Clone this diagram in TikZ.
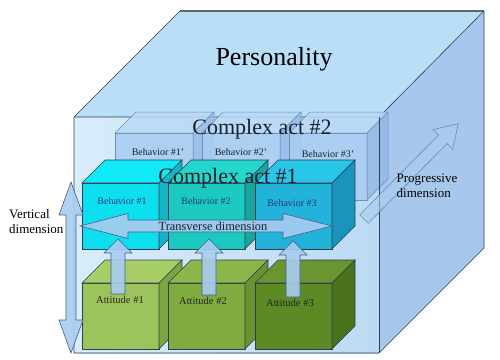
\documentclass[tikz,border=0pt]{standalone}
\usepackage{fontspec}
\setmainfont{Liberation Serif}
\usepackage{xcolor}
\usetikzlibrary{positioning}

\definecolor{cubeTop}{HTML}{B9DEF7}
\definecolor{cubeFrontL}{HTML}{D8EDFA}
\definecolor{cubeFrontR}{HTML}{BBDAF3}
\definecolor{cubeSide}{HTML}{A7C7EC}
\definecolor{edgeCol}{HTML}{2E3E50}
\definecolor{bpFront}{HTML}{A8CCF2}
\definecolor{bpTop}{HTML}{BAD9F6}
\definecolor{bpSide}{HTML}{94BAE6}
\definecolor{bpEdge}{HTML}{6A8FB8}
\definecolor{bOneFront}{HTML}{0CE0EF}
\definecolor{bOneTop}{HTML}{10EAF6}
\definecolor{bOneSide}{HTML}{14B4C6}
\definecolor{bTwoFront}{HTML}{1CC9C0}
\definecolor{bTwoTop}{HTML}{24D6CC}
\definecolor{bTwoSide}{HTML}{17A59E}
\definecolor{bThreeFront}{HTML}{22B2DA}
\definecolor{bThreeTop}{HTML}{2AC6E8}
\definecolor{bThreeSide}{HTML}{1A94BC}
\definecolor{aOneFront}{HTML}{9DC45C}
\definecolor{aOneTop}{HTML}{A9CE67}
\definecolor{aOneSide}{HTML}{7FA442}
\definecolor{aTwoFront}{HTML}{80AB3F}
\definecolor{aTwoTop}{HTML}{8DB64A}
\definecolor{aTwoSide}{HTML}{6A9231}
\definecolor{aThreeFront}{HTML}{5E8A25}
\definecolor{aThreeTop}{HTML}{6B9530}
\definecolor{aThreeSide}{HTML}{4A711C}
\definecolor{arrFill}{HTML}{A9CCF0}
\definecolor{arrEdge}{HTML}{40628A}
\definecolor{behTxt}{HTML}{1E3C78}
\definecolor{actTxt}{HTML}{18222E}

% x, y, width, height, depth, front, top, side
\newcommand{\cuboid}[8]{%
  \filldraw[#6] (#1,#2) rectangle ++(#3,#4);
  \filldraw[#7] (#1,#2) -- ++(#5,-#5) -- ++(#3,0) -- ++(-#5,#5) -- cycle;
  \filldraw[#8] (#1+#3,#2) -- ++(#5,-#5) -- ++(0,#4) -- ++(-#5,#5) -- cycle;
}

\begin{document}
\begin{tikzpicture}[x=1pt, y=-1pt,
        edge/.style={draw=edgeCol, line width=0.6pt},
        ghost/.style={draw=bpEdge, line width=0.5pt, fill opacity=0.85},
        blockarrow/.style={fill=arrFill, draw=arrEdge, line width=0.6pt, fill opacity=0.9},
        big/.style={font=\fontsize{26}{30}\selectfont, text=black},
        act/.style={font=\fontsize{22}{24}\selectfont, text=actTxt},
        boxlabel/.style={font=\fontsize{10}{12}\selectfont},
        dimlabel/.style={font=\fontsize{13}{15}\selectfont, align=left, text=black},
    ]
    \useasboundingbox (0,0) rectangle (500,359);
    % personality cube
    \fill[cubeSide] (379,117) -- (484,11) -- (484,248) -- (379,353) -- cycle;
    \fill[cubeTop] (74,117) -- (180,11) -- (484,11) -- (379,117) -- cycle;
    \shade[left color=cubeFrontL, right color=cubeFrontR] (74,117) rectangle (379,353);
    \draw[edgeCol, line width=0.6pt] (74,353) -- (74,117) -- (180,11);
    \draw[gray!80!black, line width=1.2pt] (180,11) -- (484,11);
    \draw[edgeCol, line width=0.6pt] (484,11) -- (484,248) -- (379,353) -- (74,353);
    \draw[edgeCol, line width=0.6pt] (74,117) -- (379,117) -- (484,11);
    \node[big] (personality) at (274,59) {Personality};
    % complex act 2
    \foreach \bx in {115,202,289}
        \cuboid{\bx}{133}{78}{67}{21}{ghost, fill=bpFront}{ghost, fill=bpTop}{ghost, fill=bpSide}
    \draw[edgeCol, line width=0.6pt] (379,117) -- (379,353);
    \node[boxlabel, text=actTxt] (beh1p) at (158,152) {Behavior \#1'};
    \node[boxlabel, text=actTxt] (beh2p) at (241,152) {Behavior \#2'};
    \node[boxlabel, text=actTxt] (beh3p) at (328,154) {Behavior \#3'};
    \node[act] (act2) at (262,129) {Complex act \#2};
    % progressive dimension
    \begin{scope}[shift={(364,219)}, rotate=45.3]
        \filldraw[blockarrow, fill opacity=0.6, draw opacity=0.6] (0,-6) -- (112,-6) -- (112,-14) -- (134,0)
            -- (112,14) -- (112,6) -- (0,6) -- cycle;
    \end{scope}
    \node[dimlabel] (progressive) at (427,186) {Progressive\\dimension};
    % complex act 1
    \cuboid{82}{183}{77}{66}{23}{edge, fill=bOneFront}{edge, fill=bOneTop}{edge, fill=bOneSide}
    \cuboid{168}{183}{77}{66}{23}{edge, fill=bTwoFront}{edge, fill=bTwoTop}{edge, fill=bTwoSide}
    \cuboid{255}{183}{77}{66}{23}{edge, fill=bThreeFront}{edge, fill=bThreeTop}{edge, fill=bThreeSide}
    \node[boxlabel, text=behTxt] (beh1) at (122,201) {Behavior \#1};
    \node[boxlabel, text=behTxt] (beh2) at (206,201) {Behavior \#2};
    \node[boxlabel, text=behTxt] (beh3) at (292,203) {Behavior \#3};
    \node[act] (act1) at (228,178) {Complex act \#1};
    % attitudes
    \cuboid{82}{283}{77}{66}{23}{edge, fill=aOneFront}{edge, fill=aOneTop}{edge, fill=aOneSide}
    \cuboid{168}{283}{77}{66}{23}{edge, fill=aTwoFront}{edge, fill=aTwoTop}{edge, fill=aTwoSide}
    \cuboid{255}{283}{77}{66}{23}{edge, fill=aThreeFront}{edge, fill=aThreeTop}{edge, fill=aThreeSide}
    \node[boxlabel, font=\fontsize{10.5}{12}\selectfont, text=black!85] (att1) at (120,300) {Attitude \#1};
    \node[boxlabel, font=\fontsize{10.5}{12}\selectfont, text=black!85] (att2) at (203,301) {Attitude \#2};
    \node[boxlabel, font=\fontsize{10.5}{12}\selectfont, text=black!85] (att3) at (290,303) {Attitude \#3};
    % attitude -> behavior
    \foreach \cx/\ty/\by in {118/239/294, 209/239/295, 293/241/297}
        \filldraw[blockarrow] (\cx-7,\by) -- (\cx-7,\ty+14) -- (\cx-14,\ty+14) -- (\cx,\ty)
            -- (\cx+14,\ty+14) -- (\cx+7,\ty+14) -- (\cx+7,\by) -- cycle;
    % transverse dimension
    \filldraw[blockarrow] (80,226) -- (128,213.5) -- (128,220) -- (283,220) -- (283,213.5)
        -- (332,226) -- (283,238.5) -- (283,232) -- (128,232) -- (128,238.5) -- cycle;
    \node[font=\fontsize{12.4}{14}\selectfont, text=actTxt] (transverse) at (213,226) {Transverse dimension};
    % vertical dimension
    \filldraw[blockarrow] (71,182) -- (83,215) -- (76,215) -- (76,320) -- (83,320) -- (71,353)
        -- (59,320) -- (66,320) -- (66,215) -- (59,215) -- cycle;
    \node[dimlabel, anchor=west, inner sep=0pt] (vertical) at (9,222) {Vertical\\dimension};
\end{tikzpicture}
\end{document}
